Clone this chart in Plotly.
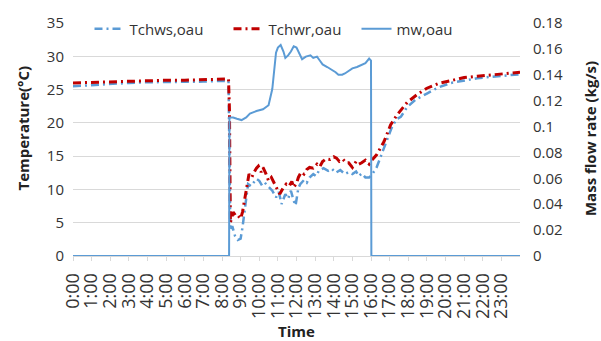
import plotly.graph_objects as go

# ---- data ----
hour_labels = [f"{h}:00" for h in range(24)]
hour_ticks = list(range(24))

ws_hours = [0, 1, 2, 3, 4, 5, 6, 7, 8, 8.35, 8.4, 8.45, 8.55, 8.7, 8.85, 9.0, 9.1, 9.2, 9.3, 9.4,
            9.55, 9.7, 9.85, 10.0, 10.15, 10.3, 10.5, 10.7, 10.9, 11.05, 11.2, 11.4, 11.55, 11.7,
            11.85, 11.95, 12.1, 12.2, 12.4, 12.55, 12.7, 12.9, 13.05, 13.2, 13.45, 13.7, 13.9,
            14.1, 14.35, 14.6, 14.8, 15.0, 15.2, 15.35, 15.5, 15.7, 15.9, 16.05, 16.3, 16.6,
            16.85, 17.1, 17.35, 17.6, 17.95, 18.4, 19.0, 19.6, 20.3, 21.0, 21.7, 22.4, 23.1, 24.0]
tchws = [25.5, 25.7, 25.9, 26.0, 26.1, 26.1, 26.2, 26.2, 26.3, 26.3, 15.0, 3.9, 4.5, 3.0, 2.4, 2.6,
         4.3, 6.8, 8.8, 10.8, 10.5, 11.0, 11.6, 11.3, 10.6, 11.0, 10.4, 9.8, 8.8, 9.6, 7.8, 9.3,
         8.6, 9.8, 8.3, 7.6, 10.2, 10.8, 11.4, 11.0, 11.8, 12.3, 12.0, 12.8, 13.2, 12.8, 13.1,
         12.5, 12.9, 12.3, 12.6, 12.3, 12.7, 12.0, 12.4, 11.8, 11.8, 12.2, 13.3, 15.5, 17.5,
         19.2, 20.5, 20.9, 22.4, 23.5, 24.4, 25.3, 26.0, 26.4, 26.7, 26.9, 27.1, 27.3]

wr_hours = [0, 1, 2, 3, 4, 5, 6, 7, 8, 8.35, 8.4, 8.45, 8.6, 8.75, 8.85, 9.0, 9.1, 9.2, 9.3, 9.45,
            9.6, 9.7, 9.85, 9.95, 10.1, 10.2, 10.35, 10.5, 10.65, 10.8, 10.95, 11.1, 11.3, 11.45,
            11.6, 11.75, 11.85, 12.0, 12.1, 12.25, 12.4, 12.55, 12.7, 12.9, 13.1, 13.25, 13.4,
            13.6, 13.8, 14.0, 14.15, 14.3, 14.5, 14.65, 14.8, 15.0, 15.2, 15.35, 15.5, 15.7,
            15.9, 16.05, 16.3, 16.5, 16.7, 16.9, 17.05, 17.4, 17.95, 18.5, 19.0, 19.6, 20.3,
            21.0, 21.7, 22.4, 23.1, 24.0]
tchwr = [26.0, 26.1, 26.2, 26.3, 26.3, 26.4, 26.4, 26.5, 26.5, 26.6, 22.0, 5.0, 6.6, 6.0, 6.1, 5.6,
         6.6, 8.2, 9.3, 12.3, 11.8, 12.5, 13.2, 13.5, 12.6, 13.3, 12.4, 11.3, 11.8, 11.0, 10.2,
         9.3, 10.3, 10.8, 10.5, 11.2, 10.3, 10.9, 11.8, 12.6, 12.3, 13.0, 13.3, 13.2, 13.8,
         13.4, 14.2, 14.6, 14.5, 14.9, 14.7, 14.2, 14.5, 14.0, 14.0, 13.3, 14.2, 13.8, 14.0,
         14.4, 13.8, 14.4, 15.2, 16.3, 17.2, 18.6, 19.7, 21.2, 23.1, 24.3, 25.2, 25.9, 26.4,
         26.8, 27.0, 27.2, 27.4, 27.6]

mw_hours = [0, 4, 8.38, 8.4, 8.6, 8.8, 9.05, 9.3, 9.5, 9.85, 10.2, 10.5, 10.7, 10.9, 11.0, 11.15,
            11.3, 11.4, 11.55, 11.7, 11.85, 12.0, 12.15, 12.3, 12.5, 12.75, 12.9, 13.1, 13.25,
            13.4, 13.65, 13.9, 14.1, 14.25, 14.45, 14.6, 14.8, 15.0, 15.25, 15.5, 15.7, 15.9,
            16.0, 16.02, 20, 24]
mw = [0, 0, 0, 0.107, 0.107, 0.106, 0.105, 0.107, 0.110, 0.112, 0.1134, 0.1165, 0.129, 0.157,
      0.161, 0.163, 0.158, 0.153, 0.155, 0.158, 0.162, 0.161, 0.156, 0.152, 0.154, 0.155, 0.153,
      0.154, 0.151, 0.148, 0.146, 0.144, 0.142, 0.140, 0.140, 0.141, 0.143, 0.145, 0.146,
      0.1475, 0.149, 0.1525, 0.151, 0, 0, 0]

BLUE = "#5B9BD5"
RED = "#C00000"
FONT = "Open Sans"
TXT = "#333333"
GRID = "#d9d9d9"

fig = go.Figure()
fig.add_trace(go.Scatter(x=ws_hours, y=tchws, name="Tchws,oau", mode="lines", legend="legend",
                         line=dict(color=BLUE, width=2.5, dash="8px,4px,2px,4px")))
fig.add_trace(go.Scatter(x=wr_hours, y=tchwr, name="Tchwr,oau", mode="lines", legend="legend2",
                         line=dict(color=RED, width=3, dash="8px,4px,2px,4px")))
fig.add_trace(go.Scatter(x=mw_hours, y=mw, name="mw,oau", mode="lines", yaxis="y2",
                         legend="legend3", line=dict(color=BLUE, width=2)))

def leg(xpx):
    return dict(orientation="h", x=(xpx - 73) / 447, y=1.045, xanchor="left", yanchor="top",
                bgcolor="rgba(0,0,0,0)", font=dict(size=15, color=TXT))

fig.update_layout(
    width=601, height=341,
    margin=dict(l=73, r=81, t=20, b=85),
    paper_bgcolor="white", plot_bgcolor="white",
    font=dict(family=FONT, size=15, color=TXT),
    showlegend=True,
    legend=leg(89.5), legend2=leg(228.5), legend3=leg(356.5),
    xaxis=dict(range=[0, 24], tickvals=hour_ticks, ticktext=hour_labels, tickangle=-90,
               tickfont=dict(size=18, color=TXT), ticks="outside", ticklen=4, tickcolor=GRID,
               ticklabelstandoff=5, automargin=False,
               showgrid=False, showline=True, linecolor=GRID, zeroline=False,
               title=dict(text="<b>Time</b>", font=dict(size=15, color="#222"), standoff=8)),
    yaxis=dict(range=[0, 35], dtick=5, showgrid=True, gridcolor=GRID, zeroline=False,
               showline=False, ticks="", ticklabelstandoff=8, automargin=False),
    yaxis2=dict(range=[0, 0.18], dtick=0.02, overlaying="y", side="right", showgrid=False,
                zeroline=False, showline=False, ticks="", ticklabelstandoff=12, automargin=False),
    annotations=[
        dict(text="<b>Temperature(°C)</b>", textangle=-90, xref="paper", yref="paper",
             x=-50 / 447, y=0.547, xanchor="center", yanchor="middle", showarrow=False,
             font=dict(size=15, color="#222")),
        dict(text="<b>Mass flow rate (kg/s)</b>", textangle=-90, xref="paper", yref="paper",
             x=1 + 70 / 447, y=0.502, xanchor="center", yanchor="middle", showarrow=False,
             font=dict(size=15, color="#222")),
    ],
)

fig.write_html("out.html")
